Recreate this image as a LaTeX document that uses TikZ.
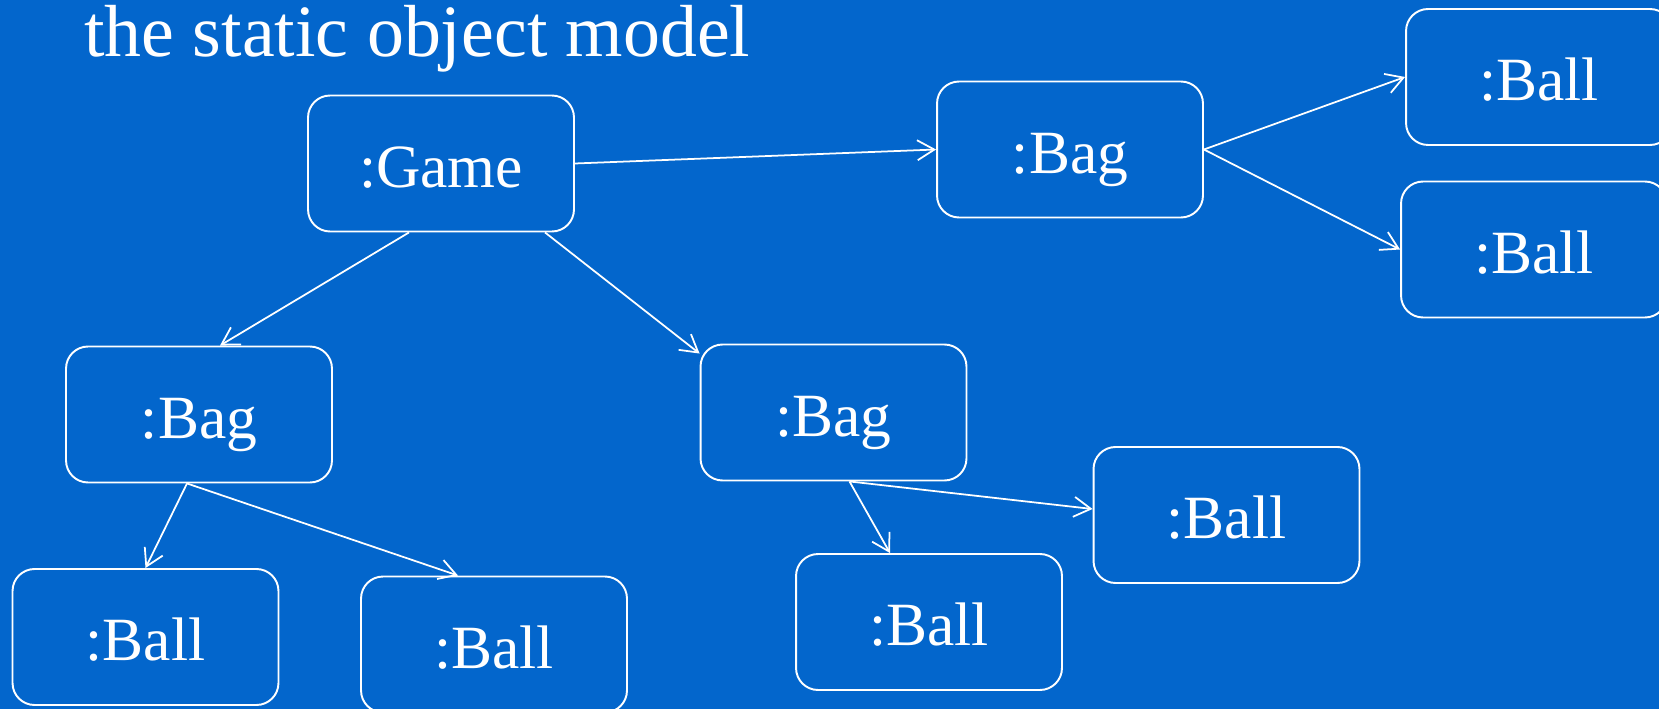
\documentclass[tikz,border=0pt]{standalone}
\usepackage{fontspec}
\setmainfont{Liberation Serif}
\usetikzlibrary{arrows.meta,calc}
\definecolor{slideblue}{HTML}{0366CC}

\begin{document}
\begin{tikzpicture}[x=0.02cm, y=-0.02cm,
  obj/.style = {shape=rectangle, rounded corners=0.44cm,
    draw=white, line width=1.1pt, inner sep=0pt,
    minimum width=5.32cm, minimum height=2.72cm,
    text=white, font=\fontsize{35pt}{42pt}\selectfont,
    text height=27pt, text depth=0pt},
  link/.style = {draw=white, line width=1pt,
    -{Straight Barb[length=0.34cm, width=0.4cm]}}]
  \useasboundingbox (0,0) rectangle (1659,709);
  \clip (0,0) rectangle (1659,709);
  \fill[slideblue] (0,0) rectangle (1659,709);

  % title
  \node[anchor=base west, inner sep=0pt, text=white,
    font=\fontsize{42pt}{50pt}\selectfont] (title) at (84,57)
    {the static object model};

  % objects
  \node[obj] (game)   at (441,163.5)  {:Game};
  \node[obj] (bagR)   at (1070,149.5) {:Bag};
  \node[obj] (ballR1) at (1539,77)    {:Ball};
  \node[obj] (ballR2) at (1534,249.5) {:Ball};
  \node[obj] (bagL)   at (199,414.5)  {:Bag};
  \node[obj] (bagM)   at (833.5,412.5) {:Bag};
  \node[obj] (ballMR) at (1226.5,515) {:Ball};
  \node[obj] (ballMB) at (929,622)    {:Ball};
  \node[obj] (ballL1) at (145.5,637)  {:Ball};
  \node[obj] (ballL2) at (494,644.5)  {:Ball};

  % links
  \draw[link] (game.east) -- (bagR.west);
  \draw[link] ($(game.south)+(-32,0)$) -- ($(bagL.north)+(21,0)$);
  \draw[link] ($(game.south)+(104,0)$) -- ($(bagM.north west)+(0,10)$);
  \draw[link] (bagR.east) -- (ballR1.west);
  \draw[link] (bagR.east) -- (ballR2.west);
  \draw[link] ($(bagL.south)+(-12,0)$) -- (ballL1.north);
  \draw[link] ($(bagL.south)+(-12,0)$) -- ($(ballL2.north)+(-36,0)$);
  \draw[link] ($(bagM.south)+(16,0)$) -- ($(ballMB.north)+(-39,0)$);
  \draw[link] ($(bagM.south)+(16,0)$) -- ($(ballMR.west)+(0,-6)$);
\end{tikzpicture}
\end{document}
